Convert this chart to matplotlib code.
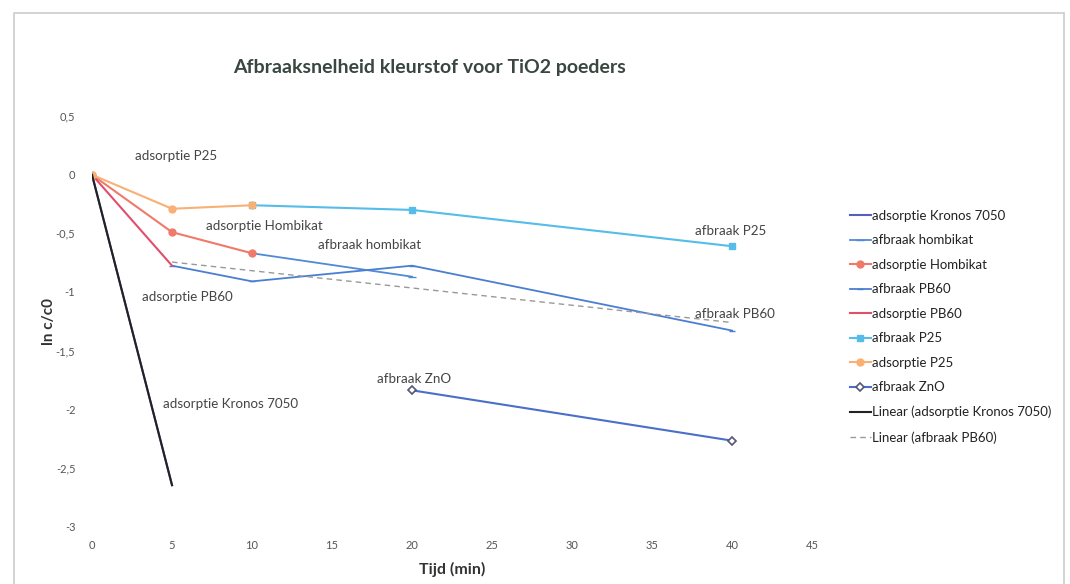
import matplotlib.pyplot as plt
import numpy as np
from matplotlib.patches import Rectangle

# data (x in min, y = ln c/c0)
kronos_ads_x = [0, 5]
kronos_ads_y = [0, -2.65]
hombikat_afb_x = [10, 20]
hombikat_afb_y = [-0.67, -0.87]
hombikat_ads_x = [0, 5, 10]
hombikat_ads_y = [0, -0.49, -0.67]
pb60_afb_x = [5, 10, 20, 40]
pb60_afb_y = [-0.776, -0.91, -0.776, -1.33]
pb60_ads_x = [0, 5]
pb60_ads_y = [0, -0.776]
p25_afb_x = [10, 20, 40]
p25_afb_y = [-0.26, -0.30, -0.61]
p25_ads_x = [0, 5, 10]
p25_ads_y = [0, -0.29, -0.26]
zno_afb_x = [20, 40]
zno_afb_y = [-1.84, -2.27]

# data labels placed in the plot
label_texts = ["adsorptie P25", "adsorptie Hombikat", "afbraak hombikat",
               "adsorptie PB60", "adsorptie Kronos 7050", "afbraak ZnO",
               "afbraak P25", "afbraak PB60"]
label_x = [2.7, 7.1, 14.1, 3.1, 4.45, 17.8, 37.7, 37.7]
label_y = [0.16, -0.44, -0.60, -1.04, -1.96, -1.74, -0.48, -1.19]

x_ticks = [0, 5, 10, 15, 20, 25, 30, 35, 40, 45]
y_ticks = [0.5, 0, -0.5, -1, -1.5, -2, -2.5, -3]

plt.rcParams['font.family'] = ['Lato', 'DejaVu Sans']

fig = plt.figure(figsize=(10.7, 5.84), dpi=100)
ax = fig.add_axes([0.086, 0.099, 0.673, 0.702])

ax.plot(kronos_ads_x, kronos_ads_y, color="#5560b8", lw=1.5,
        label="adsorptie Kronos 7050")
ax.plot(hombikat_afb_x, hombikat_afb_y, color="#4f8ad6", lw=1.3,
        marker="_", ms=6, label="afbraak hombikat")
ax.plot(hombikat_ads_x, hombikat_ads_y, color="#f07a6a", lw=1.5,
        marker="o", ms=5, label="adsorptie Hombikat")
ax.plot(pb60_afb_x, pb60_afb_y, color="#4a7ed2", lw=1.3,
        marker="_", ms=5, label="afbraak PB60")
ax.plot(pb60_ads_x, pb60_ads_y, color="#e0506a", lw=1.5,
        label="adsorptie PB60")
ax.plot(p25_afb_x, p25_afb_y, color="#55bde8", lw=1.5,
        marker="s", ms=5, label="afbraak P25")
ax.plot(p25_ads_x, p25_ads_y, color="#f9b075", lw=1.5,
        marker="o", ms=5, label="adsorptie P25")
ax.plot(zno_afb_x, zno_afb_y, color="#4a6fc8", lw=1.5,
        marker="D", ms=4, mfc="white", mec="#555577", mew=1.2,
        label="afbraak ZnO")

# linear trendlines
k = np.polyfit(kronos_ads_x, kronos_ads_y, 1)
ax.plot(kronos_ads_x, np.polyval(k, kronos_ads_x), color="#222222", lw=1.5,
        label="Linear (adsorptie Kronos 7050)")
p = np.polyfit(pb60_afb_x, pb60_afb_y, 1)
tx = np.array([pb60_afb_x[0], pb60_afb_x[-1]])
ax.plot(tx, np.polyval(p, tx), color="#999999", lw=1.0, ls=(0, (4, 3)),
        label="Linear (afbraak PB60)")

for t, lx, ly in zip(label_texts, label_x, label_y):
    ax.text(lx, ly, t, fontsize=9.6, color="#444444", va="center", ha="left")

ax.set_xlim(0, 45)
ax.set_ylim(-3, 0.5)
ax.set_xticks(x_ticks)
ax.set_yticks(y_ticks)
ax.set_yticklabels([f"{v:g}".replace(".", ",") for v in y_ticks])
ax.tick_params(length=0, labelsize=8, colors="#555555")
ax.tick_params(axis="y", pad=12)
ax.tick_params(axis="x", pad=10)
for s in ax.spines.values():
    s.set_visible(False)

ax.set_xlabel("Tijd (min)", fontsize=11.5, fontweight="bold", color="#333333",
              labelpad=8)
ax.set_ylabel("ln c/c0", fontsize=11, fontweight="bold", color="#333333",
              labelpad=0)

fig.text(0.401, 0.885, "Afbraaksnelheid kleurstof voor TiO2 poeders",
         fontsize=14, fontweight="bold", color="#3a4640", ha="center",
         va="center")

leg = ax.legend(loc="upper left", bbox_to_anchor=(1.045, 0.785), frameon=False,
                fontsize=9.5, handlelength=1.6, handletextpad=0.1,
                labelspacing=0.95, borderaxespad=0)
for t in leg.get_texts():
    t.set_color("#222222")

fig.patches.append(Rectangle((0.013, -0.01), 0.981, 0.988,
                             transform=fig.transFigure, fill=False,
                             ec="#cccccc", lw=1.2))

fig.savefig("out.png", dpi=100)
